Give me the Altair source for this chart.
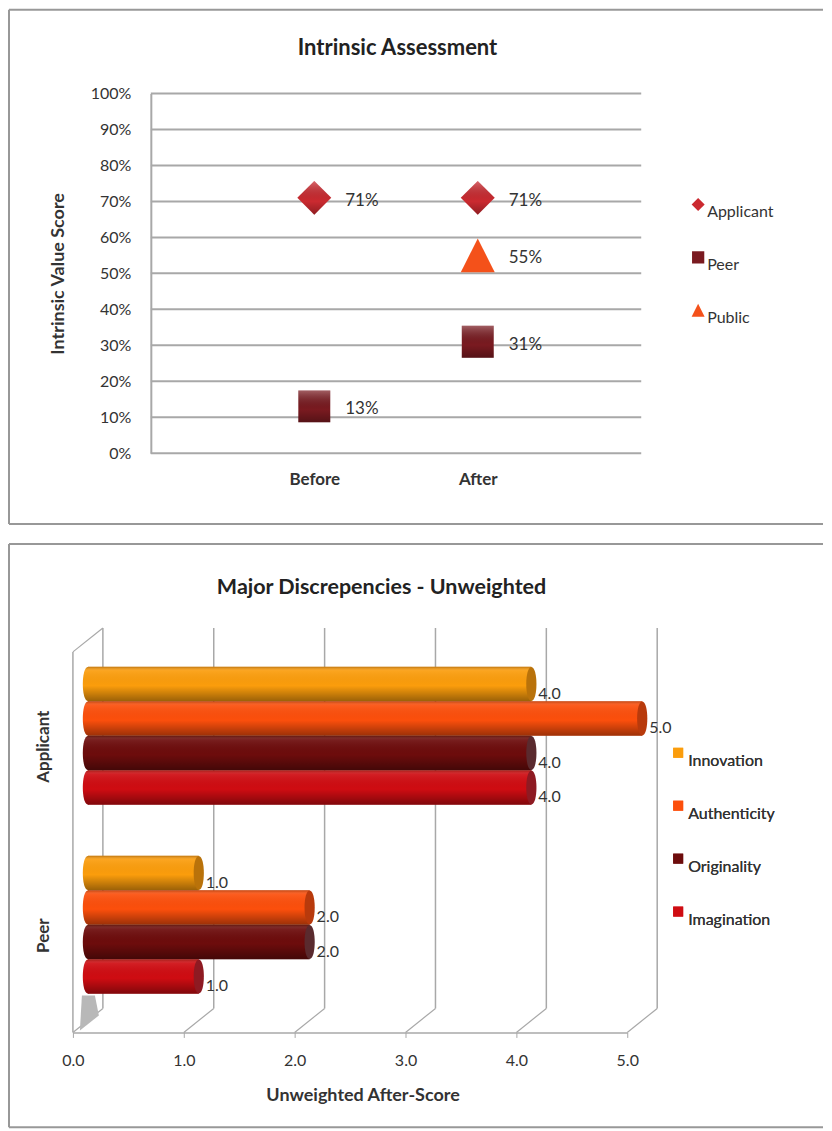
import altair as alt
import pandas as pd

# ---- top chart data
periods = ["Before", "After"]
groups_top = ["Applicant", "Peer", "Public"]
top_period = ["Before", "After", "Before", "After", "After"]
top_group = ["Applicant", "Applicant", "Peer", "Peer", "Public"]
top_value = [71, 71, 13, 31, 55]
top_colors = ["#cb2a30", "#7a1a20", "#f4511a"]
y_ticks = [0, 10, 20, 30, 40, 50, 60, 70, 80, 90, 100]

# ---- bottom chart data
respondents = ["Applicant", "Peer"]
criteria = ["Innovation", "Authenticity", "Originality", "Imagination"]
applicant_scores = [4.0, 5.0, 4.0, 4.0]
peer_scores = [1.0, 2.0, 2.0, 1.0]
bar_colors = ["#fb9d0c", "#fc4f0c", "#6d0c0c", "#cf0c12"]
cap_colors = ["#b9720a", "#b83a0c", "#5a2a2e", "#8e1a22"]
x_ticks = [0, 1, 2, 3, 4, 5]

FONT = "Lato"
GRAY = "#a8a8a8"
EDGE = "#989898"
TXT = "#333333"
DIAMOND = "diamond"
SQUARE = "M-0.94,-0.94 L0.94,-0.94 L0.94,0.94 L-0.94,0.94 Z"
TRIANGLE = "M0,-1 L1,1 L-1,1 Z"
ELL = "M0,-1 C0.4,-1 0.4,1 0,1 C-0.4,1 -0.4,-1 0,-1 Z"
top_shapes = [DIAMOND, SQUARE, TRIANGLE]

one = pd.DataFrame({"a": [1]})


def frame(left, right, top_edge, bottom_edge):
    common = dict(color=EDGE, strokeWidth=2)
    return [
        alt.Chart(one).mark_rule(**common).encode(x=alt.value(left), x2=alt.value(right), y=alt.value(top_edge)),
        alt.Chart(one).mark_rule(**common).encode(x=alt.value(left), y=alt.value(top_edge), y2=alt.value(bottom_edge)),
        alt.Chart(one).mark_rule(**common).encode(x=alt.value(left), x2=alt.value(right), y=alt.value(bottom_edge)),
    ]


def heading(text, cx, cy, size):
    return alt.Chart(pd.DataFrame({"t": [text]})).mark_text(
        font=FONT, fontSize=size, fontWeight="bold", color="#222222").encode(
        x=alt.value(cx), y=alt.value(cy), text="t:N")


shade_fill = alt.Gradient(gradient="linear", x1=0, y1=0, x2=0, y2=1, stops=[
    alt.GradientStop(offset=0, color="rgba(255,255,255,0.3)"),
    alt.GradientStop(offset=0.6, color="rgba(0,0,0,0)"),
    alt.GradientStop(offset=1, color="rgba(0,0,0,0.3)")])
cyl_fill = alt.Gradient(gradient="linear", x1=0, y1=0, x2=0, y2=1, stops=[
    alt.GradientStop(offset=0, color="rgba(70,30,0,0.35)"),
    alt.GradientStop(offset=0.12, color="rgba(255,255,255,0.08)"),
    alt.GradientStop(offset=0.55, color="rgba(0,0,0,0)"),
    alt.GradientStop(offset=1, color="rgba(0,0,0,0.38)")])

# ---- top chart
top = pd.DataFrame({"period": top_period, "group": top_group, "value": top_value})
top["label"] = top["value"].astype(str) + "%"
grid_top = pd.DataFrame({"v": y_ticks})

slots = ["\u00a0", "Before", "After", "\u00a0\u00a0"]
X_TOP = alt.X("period:N", scale=alt.Scale(type="point", domain=slots, padding=0),
              axis=alt.Axis(title=None, ticks=False, domain=False, labelAngle=0, labelFont=FONT,
                            labelFontSize=17, labelFontWeight="bold", labelColor=TXT, labelPadding=18))
YAX = alt.Axis(title="Intrinsic Value Score", titleFont=FONT, titleFontSize=18, titleFontWeight="bold",
               titleColor=TXT, titlePadding=23, values=y_ticks, labelExpr="datum.value + '%'",
               labelFont=FONT, labelFontSize=16, labelColor=TXT, grid=False, domain=True,
               domainColor=GRAY, domainWidth=2, ticks=False, labelPadding=20)
YS = alt.Scale(domain=[0, 100])
Y_TOP = alt.Y("value:Q", scale=YS, axis=YAX)

W1, H1 = 491, 360
grid1 = alt.Chart(grid_top).mark_rule(color=GRAY, strokeWidth=2).encode(y=alt.Y("v:Q", scale=YS, axis=YAX))
pts = alt.Chart(top).mark_point(filled=True, size=1156, opacity=1).encode(
    x=X_TOP, y=Y_TOP,
    color=alt.Color("group:N", scale=alt.Scale(domain=groups_top, range=top_colors),
                    legend=alt.Legend(title=None, orient="none", legendX=540, legendY=103, labelFont=FONT,
                                      labelFontSize=16, labelColor=TXT, rowPadding=29, symbolSize=170,
                                      labelOffset=1, labelBaseline="top")),
    shape=alt.Shape("group:N", scale=alt.Scale(domain=groups_top, range=top_shapes)))
shade1 = alt.Chart(top[top["group"] != "Public"]).mark_point(filled=True, size=1156, opacity=1, fill=shade_fill).encode(
    x=X_TOP, y=Y_TOP, shape=alt.Shape("group:N", scale=alt.Scale(domain=groups_top, range=top_shapes), legend=None))
lab1 = alt.Chart(top).mark_text(align="left", dx=31, dy=3, font=FONT, fontSize=17, color=TXT).encode(
    x=X_TOP, y=Y_TOP, text="label:N")
chart1 = alt.layer(*frame(-142, 673, -84, 431), grid1, pts, shade1, lab1,
                   heading("Intrinsic Assessment", 247, -46, 22)).properties(width=W1, height=H1)

# ---- bottom chart
rows = []
for r, vals in zip(respondents, [applicant_scores, peer_scores]):
    for c, v in zip(criteria, vals):
        rows.append({"who": r, "crit": c, "v": v, "label": f"{v:.1f}"})
bars = pd.DataFrame(rows)
bars["zero"] = 0
grid_b = pd.DataFrame({"t": x_ticks})

H2 = 405
DEPTH_X, DEPTH_Y = 30, 24
XS = alt.Scale(domain=[0, 5], range=[-78, 477])
XAX = alt.Axis(title="Unweighted After-Score", titleX=212, values=x_ticks, format=".1f", labelFont=FONT,
               labelFontSize=16, labelFlush=False, labelColor=TXT, titleFont=FONT, titleFontSize=18,
               titleFontWeight="bold", titleColor=TXT, titlePadding=18, domainColor=GRAY, domainWidth=1.5,
               tickColor=GRAY, tickSize=5, labelPadding=15, grid=False)
X_V = alt.X("v:Q", scale=XS, axis=XAX)
X_Z = alt.X("zero:Q", scale=XS, axis=XAX)
YB = alt.Scale(domain=respondents, paddingInner=0.27, paddingOuter=0.205)
Y_B = alt.Y("who:N", scale=YB, axis=None)
YOFF = alt.YOffset("crit:N", scale=alt.Scale(domain=criteria, paddingInner=0, paddingOuter=0))
COL = alt.Color("crit:N", scale=alt.Scale(domain=criteria, range=bar_colors),
                legend=alt.Legend(title=None, orient="none", legendX=520, legendY=117, labelFont=FONT,
                                  labelFontSize=16, labelColor=TXT, rowPadding=29, symbolType="square",
                                  symbolSize=100, labelOffset=2, labelBaseline="top"))

back = alt.Chart(grid_b).mark_rule(color=GRAY, strokeWidth=1.5, xOffset=DEPTH_X, x2Offset=DEPTH_X).encode(
    x=alt.X("t:Q", scale=XS, axis=XAX), y=alt.value(0), y2=alt.value(H2 - DEPTH_Y))
diag = alt.Chart(grid_b).mark_rule(color=GRAY, strokeWidth=1.2, x2Offset=DEPTH_X).encode(
    x=alt.X("t:Q", scale=XS, axis=XAX), x2="t:Q", y=alt.value(H2), y2=alt.value(H2 - DEPTH_Y))
left_front = alt.Chart(one).mark_rule(color=GRAY, strokeWidth=1.5).encode(
    x=alt.value(-78), y=alt.value(DEPTH_Y), y2=alt.value(H2))
left_top = alt.Chart(one).mark_rule(color=GRAY, strokeWidth=1.2).encode(
    x=alt.value(-78), x2=alt.value(-78 + DEPTH_X), y=alt.value(DEPTH_Y), y2=alt.value(0))
floor = alt.Chart(one).mark_point(
    filled=True, opacity=1, color="#b8b8b8", size=400, shape="M-1,1.8 L0.9,0.3 L0.5,-1.7 L-0.8,-1.7 Z").encode(
    x=alt.value(-61), y=alt.value(385))

left_caps = alt.Chart(bars).mark_point(filled=True, opacity=1, shape=ELL, size=1156, xOffset=15).encode(
    x=X_Z, y=Y_B, yOffset=YOFF, color=COL)
left_caps_shade = alt.Chart(bars).mark_point(
    filled=True, opacity=1, shape=ELL, size=1156, xOffset=15, fill=cyl_fill).encode(
    x=X_Z, y=Y_B, yOffset=YOFF)
bar_layer = alt.Chart(bars).mark_bar(xOffset=15, x2Offset=15).encode(
    x=X_Z, x2="v:Q", y=Y_B, yOffset=YOFF, color=COL)
bar_shade = alt.Chart(bars).mark_bar(xOffset=15, x2Offset=15, fill=cyl_fill).encode(
    x=X_Z, x2="v:Q", y=Y_B, yOffset=YOFF)
caps = alt.Chart(bars).mark_point(filled=True, opacity=1, shape=ELL, size=1156, xOffset=15).encode(
    x=X_V, y=Y_B, yOffset=YOFF,
    color=alt.Color("crit:N", scale=alt.Scale(domain=criteria, range=cap_colors), legend=None))
bar_labels = alt.Chart(bars).mark_text(align="left", dx=22, dy=10, font=FONT, fontSize=16, color=TXT).encode(
    x=X_V, y=Y_B, yOffset=YOFF, text="label:N")
who_labels = alt.Chart(pd.DataFrame({"who": respondents})).mark_text(
    angle=270, font=FONT, fontSize=17, fontWeight="bold", color=TXT, yOffset=11).encode(
    x=alt.value(-107), y=Y_B, text="who:N")
chart2 = alt.layer(*frame(-142, 673, -84, 500), back, diag, left_front, left_top, floor,
                   left_caps, left_caps_shade, bar_layer, bar_shade, caps, bar_labels, who_labels,
                   heading("Major Discrepencies - Unweighted", 231, -40, 21.5)
                   ).resolve_scale(color="independent").properties(width=W1, height=H2)

chart = alt.vconcat(chart1, chart2, spacing=18).properties(
    padding={"left": 0, "top": 0, "right": 0, "bottom": 0}
).configure_view(stroke=None).resolve_scale(color="independent", shape="independent")
chart.save("out.html", embed_options={"renderer": "svg", "actions": False})
